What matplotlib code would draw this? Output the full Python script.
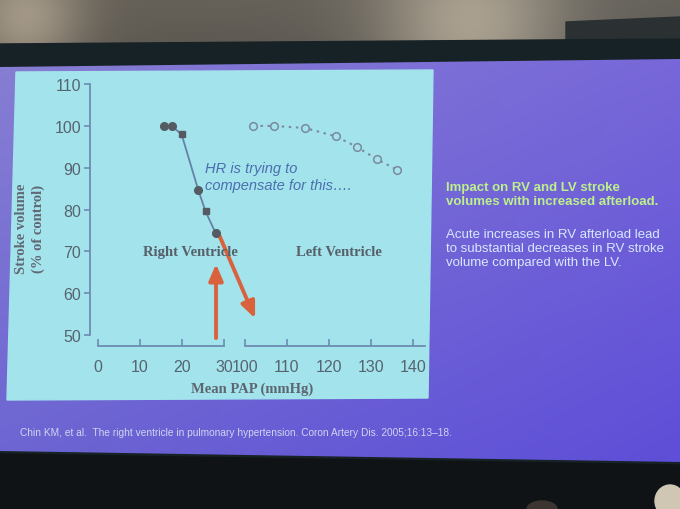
import numpy as np
import matplotlib
matplotlib.use("Agg")
import matplotlib.pyplot as plt
from matplotlib.patches import Polygon, Ellipse
from matplotlib.colors import to_rgb

# ── data ─────────────────────────────────────────────────────────────────────
rv_pap = [15.8, 17.5, 19.9, 23.9, 25.6, 28.0]
rv_sv = [100, 100, 98.0, 84.6, 79.6, 74.4]
rv_marker = ["o", "o", "s", "o", "s", "o"]

lv_pap = [102.0, 106.9, 114.3, 121.7, 126.6, 131.5, 136.3]
lv_sv = [100, 100, 99.5, 97.5, 95.0, 92.0, 89.5]

rv_xticks = [0, 10, 20, 30]
lv_xticks = [100, 110, 120, 130, 140]
yticks = [50, 60, 70, 80, 90, 100, 110]

heading = ["Impact on RV and LV stroke", "volumes with increased afterload."]
body = ["Acute increases in RV afterload lead",
        "to substantial decreases in RV stroke",
        "volume compared with the LV."]
citation = ("Chin KM, et al.  The right ventricle in pulmonary hypertension. "
            "Coron Artery Dis. 2005;16:13\u201318.")

# arrows (data units of the RV axis)
up_arrow = ((28.1, 49.3), (28.1, 67.0))
down_arrow = ((28.6, 74.5), (37.4, 54.0))

# ── style ────────────────────────────────────────────────────────────────────
plt.rcParams["font.family"] = ["Liberation Sans", "DejaVu Sans"]
W, H = 680, 510
PANEL = "#a3e3ec"
AXIS = "#6d8cb4"
TICKLBL = "#55646f"
DARK = "#566069"
ARROW = "#d9623c"


def corner_gradient(h, w, tl, tr, bl, br):
    tl, tr, bl, br = (np.array(to_rgb(c)) for c in (tl, tr, bl, br))
    u = np.linspace(0, 1, w)[None, :, None]
    v = np.linspace(0, 1, h)[:, None, None]
    top = tl * (1 - u) + tr * u
    bot = bl * (1 - u) + br * u
    return top * (1 - v) + bot * v


fig = plt.figure(figsize=(6.8, 5.1), dpi=100)
bg = fig.add_axes([0, 0, 1, 1])
bg.set_xlim(0, W)
bg.set_ylim(H, 0)
bg.axis("off")

# room / ceiling
room = corner_gradient(H, W, "#655f56", "#66635d", "#111517", "#15191b")
yy, xx = np.mgrid[0:H, 0:W]
for cx, cy, s, amp in [(25, 20, 40, 0.25), (470, 30, 65, 0.28)]:
    g = np.exp(-((xx - cx) ** 2 + (yy - cy) ** 2) / (2 * s ** 2))[..., None]
    room = room + amp * g * np.array([1.0, 0.92, 0.78]) * (yy < 50)[..., None]
bg.imshow(np.clip(room, 0, 1), extent=[0, W, H, 0], zorder=0)
bg.add_patch(Polygon([(566, 23), (680, 18), (680, 42), (566, 42)],
                     color="#2b3033", zorder=1))
bg.add_patch(Polygon([(0, 45), (680, 40), (680, 470), (0, 460)],
                     color="#172226", zorder=1))
bg.add_patch(Polygon([(0, 455), (680, 466), (680, 510), (0, 510)],
                     color="#0f1315", zorder=1))
bg.add_patch(Ellipse((542, 510), 30, 16, color="#3b3431", zorder=1))
bg.add_patch(Ellipse((670, 502), 30, 32, color="#cfc6b4", zorder=1))

# slide
slide = Polygon([(0, 68), (680, 60), (680, 463), (0, 452)], closed=True,
                transform=bg.transData, facecolor="none", edgecolor="none")
bg.add_patch(slide)
grad = corner_gradient(H, W, "#8a82d2", "#7b6bd9", "#6a62d2", "#5b4bd8")
im = bg.imshow(grad, extent=[0, W, H, 0], zorder=2)
im.set_clip_path(slide)

# chart panel
bg.add_patch(Polygon([(16, 73), (433, 71), (428, 399), (7, 401)],
                     color=PANEL, zorder=3))

# ── axes ─────────────────────────────────────────────────────────────────────
ybot, ytop = 47.4, 110.5
ax_rv = fig.add_axes([98 / W, (H - 347) / H, 126 / W, 264 / H])
ax_lv = fig.add_axes([245 / W, (H - 347) / H, 180 / W, 264 / H])
for ax in (ax_rv, ax_lv):
    ax.set_facecolor("none")
    ax.set_ylim(ybot, ytop)
    for s in ("top", "right"):
        ax.spines[s].set_visible(False)
    ax.spines["bottom"].set_color(AXIS)
    ax.spines["bottom"].set_linewidth(1.3)
    ax.tick_params(axis="x", direction="in", length=5, width=1.2, pad=9,
                   color=AXIS, labelcolor=TICKLBL, labelsize=11.5)

ax_rv.set_xlim(0, 30)
ax_rv.set_xticks(rv_xticks)
ax_rv.set_yticks(yticks)
ax_rv.spines["left"].set_position(("outward", 6))
ax_rv.spines["left"].set_bounds(50, 110)
ax_rv.spines["left"].set_color(AXIS)
ax_rv.spines["left"].set_linewidth(1.3)
ax_rv.tick_params(axis="y", direction="out", length=4, width=1.2, pad=2,
                  color=AXIS, labelcolor=TICKLBL, labelsize=11.5)

ax_lv.set_xlim(100, 142.9)
ax_lv.set_xticks(lv_xticks)
ax_lv.spines["left"].set_visible(False)
ax_lv.set_yticks([])

# RV curve
ax_rv.plot(rv_pap, rv_sv, color="#6482a8", lw=1.3, zorder=3, clip_on=False)
for x, y, m in zip(rv_pap, rv_sv, rv_marker):
    ax_rv.plot(x, y, marker=m, ms=5.5 if m == "o" else 5, color="#545b63",
               ls="none", zorder=4, clip_on=False)

# LV curve
ax_lv.plot(lv_pap, lv_sv, ls=(0, (1.2, 2.2)), lw=1.5, color="#7a8ba2",
           marker="o", ms=5.5, mfc=PANEL, mec="#7b8a9b", mew=1.1, clip_on=False)

# arrows
for start, tip in (up_arrow, down_arrow):
    ax_rv.annotate("", xy=tip, xytext=start, annotation_clip=False,
                   arrowprops=dict(arrowstyle="-|>,head_length=0.7,head_width=0.3",
                                   lw=2.8, color=ARROW, shrinkA=0, shrinkB=0,
                                   mutation_scale=14))

# chart texts
ax_rv.text(25.5, 88.0, "HR is trying to\ncompensate for this\u2026.", style="italic",
           color="#4b6fae", fontsize=10.5, va="center", ha="left", linespacing=1.25)
ax_rv.text(22.1, 69.9, "Right Ventricle", family="Liberation Serif", weight="bold",
           color=DARK, fontsize=10.5, ha="center", va="center")
ax_lv.text(122.4, 69.9, "Left Ventricle", family="Liberation Serif", weight="bold",
           color=DARK, fontsize=10.5, ha="center", va="center")

bg.text(252, 389, "Mean PAP (mmHg)", family="Liberation Serif", weight="bold",
        color="#5d6670", fontsize=10.5, ha="center", va="center", zorder=5)
bg.text(30, 229, "Stroke volume\n(% of control)", family="Liberation Serif",
        weight="bold", rotation=90, color="#616873", fontsize=10.5,
        ha="center", va="center", linespacing=1.25, zorder=5)

# slide texts
for i, line in enumerate(heading):
    bg.text(446, 188 + 14 * i, line, weight="bold", color="#bdf08c",
            fontsize=9.5, va="center", ha="left", zorder=5)
for i, line in enumerate(body):
    bg.text(446, 235 + 14 * i, line, color="#d8e8ff", fontsize=9.5,
            va="center", ha="left", zorder=5)
bg.text(20, 433, citation, color="#cdd6f2", fontsize=7.3, va="center",
        ha="left", zorder=5)

fig.savefig("out.png", dpi=100)
